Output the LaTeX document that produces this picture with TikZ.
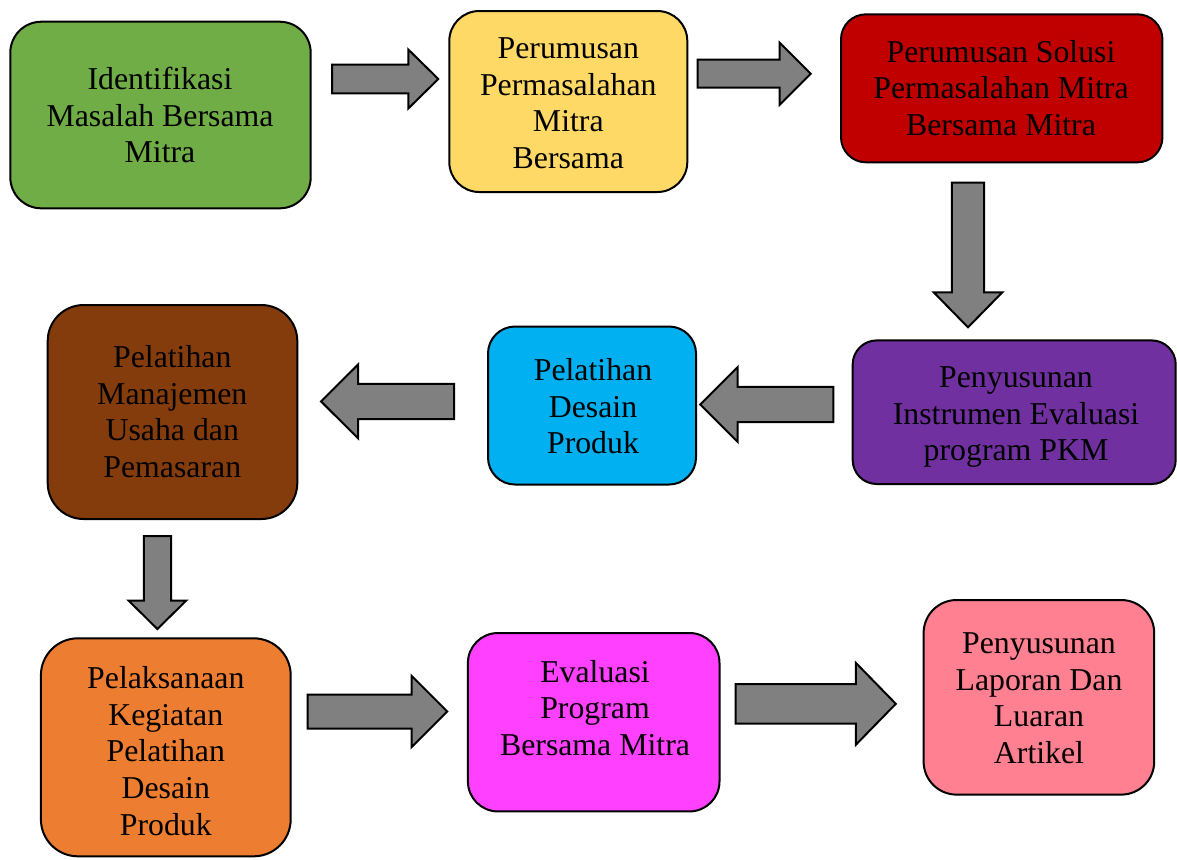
\documentclass[tikz,border=0pt]{standalone}
\usepackage{fontspec}
\setmainfont{Liberation Serif}
\usetikzlibrary{calc}
\definecolor{cgreen}{HTML}{70AD47}
\definecolor{cyellow}{HTML}{FFD966}
\definecolor{cred}{HTML}{C00000}
\definecolor{cpurple}{HTML}{7030A0}
\definecolor{ccyan}{HTML}{00B0F0}
\definecolor{cbrown}{HTML}{843C0C}
\definecolor{corange}{HTML}{ED7D31}
\definecolor{cmagenta}{HTML}{FF40FF}
\definecolor{cpink}{HTML}{FF8091}
\definecolor{agray}{HTML}{808080}
\newcommand\mystrutA{\rule{0pt}{11.5pt}}
\tikzset{
  box/.style={draw=black, line width=1pt, rounded corners=#1, inner sep=0pt},
  txt/.style={anchor=north, inner sep=0pt, align=center, text=black,
    font=\fontsize{15.9pt}{18.3pt}\selectfont},
  blk/.style n args={3}{draw=black, line width=1pt, fill=agray, line join=miter,
    to path={($(\tikztostart)!#1!90:(\tikztotarget)$)
      -- ($(\tikztotarget)!#3!(\tikztostart)!#1!90:(\tikztotarget)$)
      -- ($(\tikztotarget)!#3!(\tikztostart)!#2!90:(\tikztotarget)$)
      -- (\tikztotarget)
      -- ($(\tikztotarget)!#3!(\tikztostart)!#2!-90:(\tikztotarget)$)
      -- ($(\tikztotarget)!#3!(\tikztostart)!#1!-90:(\tikztotarget)$)
      -- ($(\tikztostart)!#1!-90:(\tikztotarget)$)
      -- cycle}}
}
\begin{document}
\begin{tikzpicture}[x=0.5pt,y=-0.5pt]
\useasboundingbox (0,0) rectangle (1177,859);
% boxes
\node[box=15.5pt, fill=cgreen,   minimum width=150.2pt, minimum height=93.3pt] (b1) at (160.5,115) {};
\node[box=15pt,   fill=cyellow,  minimum width=119pt,   minimum height=90.5pt] (b2) at (568.3,101.5) {};
\node[box=12.5pt, fill=cred,     minimum width=160.7pt, minimum height=74pt]   (b3) at (1001.7,88.3) {};
\node[box=12pt,   fill=cpurple,  minimum width=161.5pt, minimum height=71.8pt] (b4) at (1014.2,412.2) {};
\node[box=13.5pt, fill=ccyan,    minimum width=104pt,   minimum height=79pt]   (b5) at (592,405.5) {};
\node[box=18pt,   fill=cbrown,   minimum width=124.8pt, minimum height=107pt]  (b6) at (172.5,412) {};
\node[box=18.5pt, fill=corange,  minimum width=124.9pt, minimum height=109pt]  (b7) at (165.8,747.3) {};
\node[box=15pt,   fill=cmagenta, minimum width=125.8pt, minimum height=89.2pt] (b8) at (593.7,722.2) {};
\node[box=16.5pt, fill=cpink,    minimum width=115.3pt, minimum height=97.3pt] (b9) at (1038.9,697.3) {};
% texts
\node[txt] (t1) at (160,66.3) {\mystrutA Identifikasi\\Masalah Bersama\\Mitra};
\node[txt] (t2) at (568.3,35.3) {\mystrutA Perumusan\\Permasalahan\\Mitra\\Bersama};
\node[txt] (t3) at (1001,38.7) {\mystrutA Perumusan Solusi\\Permasalahan Mitra\\Bersama Mitra};
\node[txt] (t4) at (1016,364) {\mystrutA Penyusunan\\Instrumen Evaluasi\\program PKM};
\node[txt] (t5) at (593,357) {\mystrutA Pelatihan\\Desain\\Produk};
\node[txt] (t6) at (172.3,344.3) {\mystrutA Pelatihan\\Manajemen\\Usaha dan\\Pemasaran};
\node[txt] (t7) at (165.8,665.3) {\mystrutA Pelaksanaan\\Kegiatan\\Pelatihan\\Desain\\Produk};
\node[txt] (t8) at (595,658.7) {\mystrutA Evaluasi\\Program\\Bersama Mitra};
\node[txt] (t9) at (1039,630.3) {\mystrutA Penyusunan\\Laporan Dan\\Luaran\\Artikel};
% arrow end points
\coordinate (a1s) at (332,79);    \coordinate (a1e) at (438.3,79);
\coordinate (a2s) at (697.7,73.7);  \coordinate (a2e) at (810.7,73.7);
\coordinate (a3s) at (968,182.7);   \coordinate (a3e) at (968,327.3);
\coordinate (a4s) at (833.3,404.5); \coordinate (a4e) at (700.3,404.5);
\coordinate (a5s) at (454,401.4);   \coordinate (a5e) at (321,401.4);
\coordinate (a6s) at (157.4,536);   \coordinate (a6e) at (157.4,629);
\coordinate (a7s) at (307.7,711.5); \coordinate (a7e) at (447.3,711.5);
\coordinate (a8s) at (735.6,703.8); \coordinate (a8e) at (895.8,703.8);
% block arrows
\path[blk={7.2pt}{14.75pt}{15pt}]   (a1s) to (a1e);
\path[blk={7pt}{15.5pt}{15.5pt}]    (a2s) to (a2e);
\path[blk={8.1pt}{17.15pt}{17.5pt}] (a3s) to (a3e);
\path[blk={8.8pt}{18.7pt}{18.7pt}]  (a4s) to (a4e);
\path[blk={8.8pt}{18.5pt}{18.6pt}]  (a5s) to (a5e);
\path[blk={6.8pt}{14.4pt}{14.2pt}]  (a6s) to (a6e);
\path[blk={8.5pt}{17.8pt}{17.8pt}]  (a7s) to (a7e);
\path[blk={9.9pt}{20.5pt}{20pt}]    (a8s) to (a8e);
\end{tikzpicture}
\end{document}
